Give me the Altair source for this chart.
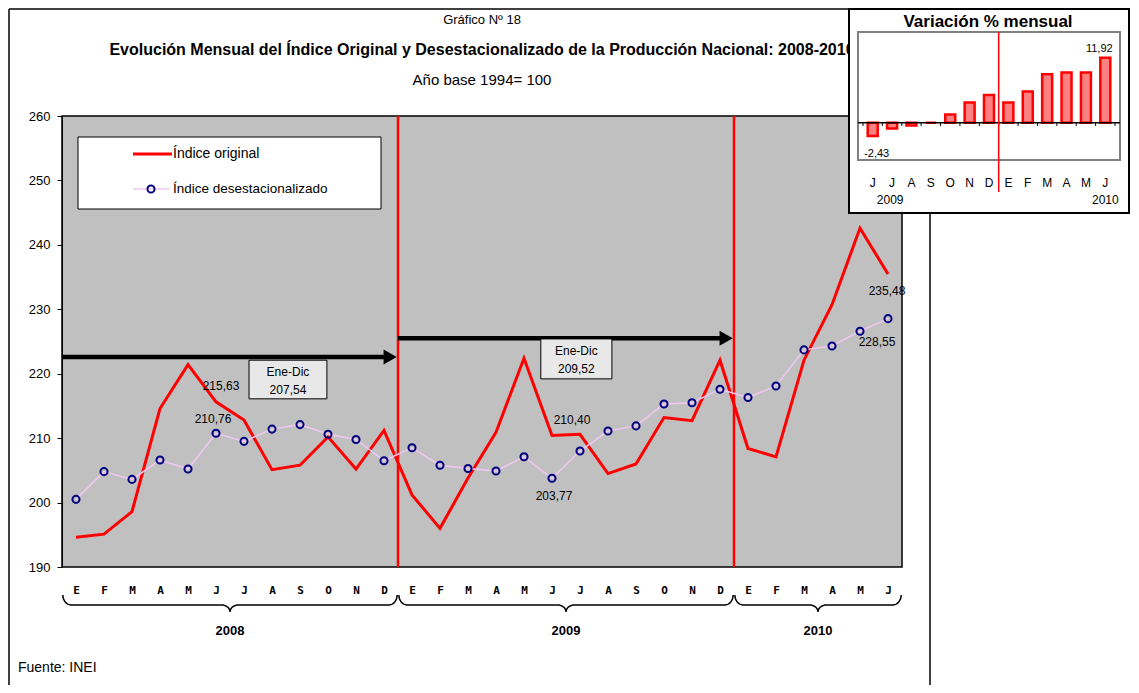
import json
import numpy as np
import pandas as pd
import altair as alt

# ---------------- data ----------------
MONTHS = ["E", "F", "M", "A", "M", "J", "J", "A", "S", "O", "N", "D"]
YEARS = ["2008", "2009", "2010"]
ORIGINAL = [194.6, 195.1, 198.6, 214.6, 221.4, 215.63, 212.8, 205.1, 205.8, 210.2, 205.2, 211.2,
            201.2, 196.0, 203.8, 210.9, 222.4, 210.40, 210.6, 204.5, 206.0, 213.2, 212.7, 222.1,
            208.4, 207.1, 222.1, 230.7, 242.6, 235.48]
DESEST = [200.5, 204.8, 203.6, 206.6, 205.2, 210.76, 209.5, 211.4, 212.1, 210.6, 209.8, 206.5,
          208.5, 205.8, 205.3, 204.9, 207.1, 203.77, 208.0, 211.1, 211.9, 215.3, 215.5, 217.6,
          216.3, 218.1, 223.7, 224.3, 226.6, 228.55]
PERIOD = "Ene-Dic"
ANNUAL_AVG = [207.54, 209.52]
SERIES = ["Índice original", "Índice desestacionalizado"]
INSET_MONTHS = ["J", "J", "A", "S", "O", "N", "D", "E", "F", "M", "A", "M", "J"]
INSET_YEARS = ["2009", "2010"]
INSET_VAR = [-2.43, -1.05, -0.5, 0.0, 1.5, 3.7, 5.1, 3.7, 5.7, 8.9, 9.2, 9.2, 11.92]
TITLES = ["Gráfico Nº 18",
          "Evolución Mensual del Índice Original y Desestacionalizado de la Producción Nacional: 2008-2010",
          "Año base 1994= 100"]
INSET_TITLE = "Variación % mensual"
SOURCE = "Fuente: INEI"


def es(v):
    return f"{v:.2f}".replace(".", ",")


n = len(ORIGINAL)
df = pd.DataFrame({"i": list(range(n)), "orig": ORIGINAL, "des": DESEST})
df["orig_l"] = [es(v) for v in ORIGINAL]
df["des_l"] = [es(v) for v in DESEST]

# ---------------- geometry ----------------
W, H = 840, 451
PAD_L, PAD_T = 54, 108
NARROW = "Liberation Sans Narrow, Arial Narrow, Liberation Sans, Arial, sans-serif"
ARIAL = "Liberation Sans, Arial, sans-serif"
ONE = alt.Data(values=[{}])

xs = alt.Scale(domain=[-0.5, n - 0.5], nice=False, zero=False)
ys = alt.Scale(domain=[190, 260], nice=False, zero=False)

month_expr = json.dumps(MONTHS) + "[datum.value % 12]"
XAXIS = alt.Axis(values=list(range(n)), labelExpr=month_expr, ticks=False, domain=False, grid=False,
                 title=None, labelFont="DejaVu Sans Mono", labelFontWeight="bold", labelFontSize=11,
                 labelPadding=17, labelOverlap=False, labelColor="black")
YAXIS = alt.Axis(values=list(range(190, 261, 10)), format="d", grid=False, title=None, tickSize=5,
                 tickColor="black", domainColor="black", labelFont=NARROW, labelFontSize=13,
                 labelPadding=7, labelColor="black", labelOverlap=False)


def px(page_x):
    return page_x - 8 - PAD_L


def py(page_y):
    return page_y - 8 - PAD_T


def yval(page_y):
    # page pixel -> main value units (extrapolated beyond the plot)
    return 260 - (page_y - 8 - PAD_T) * 70 / H


def XQ(f):
    return alt.X(f, type="quantitative", scale=xs, axis=XAXIS)


def YQ(f):
    return alt.Y(f, type="quantitative", scale=ys, axis=YAXIS)


def vtext(s, x, y, size, font=NARROW, bold=False, align="center", color="black"):
    return alt.Chart(ONE).mark_text(font=font, fontSize=size, fontWeight="bold" if bold else "normal",
                                    align=align, baseline="middle", color=color).encode(
        x=alt.value(x), y=alt.value(y), text=alt.value(s))


def vrule(x, y, x2=None, y2=None, color="black", w=1.0):
    enc = dict(x=alt.value(x), y=alt.value(y))
    if x2 is not None:
        enc["x2"] = alt.value(x2)
    if y2 is not None:
        enc["y2"] = alt.value(y2)
    return alt.Chart(ONE).mark_rule(color=color, strokeWidth=w).encode(**enc)


main = []

# original series first (defines axes)
main.append(alt.Chart(df).mark_line(color="#FF0000", strokeWidth=3, opacity=0).encode(x=XQ("i"), y=YQ("orig")))

# vertical year separators
main.append(alt.Chart(pd.DataFrame({"x": [11.5, 23.5]})).mark_rule(color="#FF0000", strokeWidth=2.5)
            .encode(x=XQ("x")))

# arrows
arr = pd.DataFrame({"x0": [-0.5, 11.5], "x1": [11.1, 23.1], "xt": [11.22, 23.22], "y": [222.6, 225.5]})
main.append(alt.Chart(arr).mark_rule(color="black", strokeWidth=4.5).encode(x=XQ("x0"), x2="x1", y=YQ("y")))
main.append(alt.Chart(arr).mark_point(shape="triangle-right", filled=True, color="black", size=230, opacity=1)
            .encode(x=XQ("xt"), y=YQ("y")))

# annual boxes
box = pd.DataFrame({"x0": [6.18, 16.6], "x1": [8.96, 19.14], "y0": [222.1, 225.4], "y1": [216.1, 219.2],
                    "t": [f"{PERIOD}\n{es(a)}" for a in ANNUAL_AVG]})
box["xc"] = (box.x0 + box.x1) / 2
box["yc"] = (box.y0 + box.y1) / 2
main.append(alt.Chart(box).mark_rect(fill="#E8E8E8", stroke="black", strokeWidth=1)
            .encode(x=XQ("x0"), x2="x1", y=YQ("y0"), y2="y1"))
main.append(alt.Chart(box).mark_text(font=NARROW, fontSize=12, lineBreak="\n", lineHeight=18, baseline="middle", dy=-8)
            .encode(x=XQ("xc"), y=YQ("yc"), text="t:N"))

# visible original line
main.append(alt.Chart(df).mark_line(color="#FF0000", strokeWidth=3).encode(x=XQ("i"), y=YQ("orig")))

# seasonally adjusted series
main.append(alt.Chart(df).mark_line(color="#F2C8F2", strokeWidth=1.5).encode(x=XQ("i"), y=YQ("des")))
main.append(alt.Chart(df).mark_point(shape="circle", filled=False, size=50, stroke="#000080", strokeWidth=2,
                                     opacity=1).encode(x=XQ("i"), y=YQ("des")))

# value labels
for col, k, dx, dy in [("orig", 5, 5, -16), ("des", 5, -3, -14), ("des", 17, 2, 18),
                       ("orig", 17, 20, -16), ("orig", 29, -1, 17), ("des", 29, -11, 23)]:
    main.append(alt.Chart(df.iloc[[k]]).mark_text(font=NARROW, fontSize=12, dx=dx, dy=dy, color="black")
                .encode(x=XQ("i"), y=YQ(col), text=f"{col}_l:N"))

# legend
main.append(alt.Chart(ONE).mark_rect(fill="white", stroke="black", strokeWidth=1).encode(
    x=alt.value(px(78)), x2=alt.value(px(381)), y=alt.value(py(137)), y2=alt.value(py(209))))
main.append(vrule(px(133), py(154), x2=px(172), color="#FF0000", w=3))
main.append(vrule(px(133), py(189), x2=px(170), color="#F2C8F2", w=1.5))
main.append(alt.Chart(ONE).mark_point(shape="circle", filled=False, size=50, stroke="#000080", strokeWidth=2,
                                      opacity=1).encode(x=alt.value(px(151)), y=alt.value(py(189))))
main.append(vtext(SERIES[0], px(173), py(154), 14, align="left"))
main.append(vtext(SERIES[1], px(173), py(189), 13.5, align="left"))

# braces and years under the month axis
rows = []
th = np.linspace(0, np.pi / 2, 10)
yt, yl, yb, r = 595, 605, 612, 0.3
for j, yr in enumerate(YEARS):
    a = 12 * j
    b = min(12 * j + 11, n - 1)
    xl, xr = a - 0.47, b + 0.47
    xm = (xl + xr) / 2
    left = [(xl + r * (1 - np.cos(t)), yt + (yl - yt) * np.sin(t)) for t in th]
    left += [(xm - r + r * np.sin(t), yl + (yb - yl) * (1 - np.cos(t))) for t in th]
    right = [(2 * xm - x, y) for (x, y) in reversed(left[:-1])]
    for o, (x, y) in enumerate(left + right):
        rows.append({"yr": yr, "o": o, "x": x, "y": yval(y)})
brace = pd.DataFrame(rows)
main.append(alt.Chart(brace).mark_line(color="black", strokeWidth=1.5).encode(
    x=XQ("x"), y=YQ("y"), detail="yr:N", order="o:Q"))
yrs = pd.DataFrame({"x": [(12 * j - 0.47 + min(12 * j + 11, n - 1) + 0.47) / 2 for j in range(len(YEARS))],
                    "t": YEARS, "y": [yval(631)] * len(YEARS)})
main.append(alt.Chart(yrs).mark_text(font=NARROW, fontSize=13, fontWeight="bold", color="black")
            .encode(x=XQ("x"), y=YQ("y"), text="t:N"))

# titles, source and frame
main.append(vtext(TITLES[0], px(482), py(20), 13))
main.append(vtext(TITLES[1], px(482), py(50), 16, bold=True))
main.append(vtext(TITLES[2], px(482), py(80), 15))
main.append(vtext(SOURCE, px(18), py(668), 14, align="left"))
main.append(vrule(px(9), py(9), y2=py(693), w=1.5))
main.append(vrule(px(9), py(9), x2=px(850), w=1.5))
main.append(vrule(px(930), py(213), y2=py(693), w=1.5))

# ---------------- inset ----------------
ixs = alt.Scale(domain=[-0.5, len(INSET_VAR) - 0.5], range=[px(858), px(1120)], nice=False, zero=False)
iys = alt.Scale(domain=[-6.84, 16.63], range=[py(160), py(32)], nice=False, zero=False)


def IX(f):
    return alt.X(f, type="quantitative", scale=ixs, axis=None)


def IY(f):
    return alt.Y(f, type="quantitative", scale=iys, axis=None)


idf = pd.DataFrame({"k": list(range(len(INSET_VAR))), "v": INSET_VAR, "z": 0.0, "m": INSET_MONTHS})
idf["lbl"] = [es(v) for v in INSET_VAR]

inset = []
inset.append(alt.Chart(ONE).mark_rect(fill="white", stroke="black", strokeWidth=2).encode(
    x=alt.value(px(849)), x2=alt.value(px(1129)), y=alt.value(py(9)), y2=alt.value(py(213))))
inset.append(alt.Chart(ONE).mark_rect(fill="white", stroke="#808080", strokeWidth=2).encode(
    x=alt.value(px(858)), x2=alt.value(px(1120)), y=alt.value(py(32)), y2=alt.value(py(160))))
inset.append(alt.Chart(idf).mark_bar(size=10, color="#FF8080", stroke="#FF0000", strokeWidth=2.5)
             .encode(x=IX("k"), y=IY("v"), y2="z"))
ticks = pd.DataFrame({"kb": [k - 0.5 for k in range(len(INSET_VAR) + 1)], "z": 0.0, "zt": -0.6})
inset.append(alt.Chart(ticks).mark_rule(color="black", strokeWidth=1).encode(x=IX("kb"), y=IY("z"), y2="zt"))
inset.append(alt.Chart(pd.DataFrame({"z": [0.0]})).mark_rule(color="black", strokeWidth=1.5).encode(
    x=alt.value(px(858)), x2=alt.value(px(1120)), y=IY("z")))
inset.append(alt.Chart(pd.DataFrame({"x": [6.5]})).mark_rule(color="#FF0000", strokeWidth=1.5).encode(
    x=IX("x"), y=alt.value(py(32)), y2=alt.value(py(192))))
inset.append(alt.Chart(idf).mark_text(font=ARIAL, fontSize=12, color="black").encode(
    x=IX("k"), y=alt.value(py(183)), text="m:N"))
iy = pd.DataFrame({"x": [0.9, 12.0], "t": INSET_YEARS})
inset.append(alt.Chart(iy).mark_text(font=ARIAL, fontSize=12, color="black").encode(
    x=IX("x"), y=alt.value(py(200)), text="t:N"))
inset.append(alt.Chart(idf.iloc[[len(INSET_VAR) - 1]]).mark_text(font=ARIAL, fontSize=11, dx=-6, dy=-9, color="black")
             .encode(x=IX("k"), y=IY("v"), text="lbl:N"))
inset.append(alt.Chart(idf.iloc[[0]]).mark_text(font=ARIAL, fontSize=11, dx=4, dy=18, color="black")
             .encode(x=IX("k"), y=IY("v"), text="lbl:N"))
inset.append(vtext(INSET_TITLE, px(988), py(22), 17, font=ARIAL, bold=True))

chart = alt.layer(alt.layer(*main), alt.layer(*inset)).resolve_scale(
    x="independent", y="independent").properties(
    width=W, height=H, autosize=alt.AutoSizeParams(type="none"),
    padding={"left": PAD_L, "top": PAD_T, "right": 1123 - PAD_L - W, "bottom": 677 - PAD_T - H},
    background="white").configure_view(fill="#C0C0C0", stroke="black", strokeWidth=1.5)

chart.save("out.html", embed_options={"renderer": "svg", "actions": False})
